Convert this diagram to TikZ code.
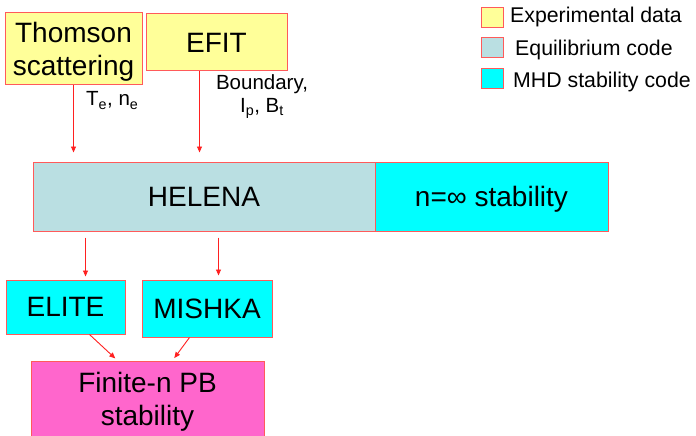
\documentclass[tikz,border=0pt]{standalone}
\usepackage{fontspec}
\setmainfont{Liberation Sans}
\usetikzlibrary{arrows.meta}

\definecolor{edgered}{HTML}{FF5A5A}
\definecolor{arrowred}{HTML}{FF2020}
\definecolor{expyellow}{HTML}{FFFF99}
\definecolor{eqblue}{HTML}{BADFE2}
\definecolor{mhdcyan}{HTML}{00FFFF}
\definecolor{pbpink}{HTML}{FF66CC}

\tikzset{
  box/.style={draw=edgered, line width=1pt, inner sep=0pt, align=center,
    font=\fontsize{28}{33}\selectfont, text depth=0pt},
  expbox/.style={box, fill=expyellow},
  eqbox/.style={box, fill=eqblue},
  mhdbox/.style={box, fill=mhdcyan},
  pbbox/.style={box, fill=pbpink},
  swatch/.style={draw=edgered, line width=1pt, inner sep=0pt,
    minimum width=22pt, minimum height=20pt},
  legtext/.style={anchor=base west, inner sep=0pt,
    font=\fontsize{21.3}{24}\selectfont},
  lbl/.style={inner sep=0pt, align=center,
    font=\fontsize{20.5}{23}\selectfont},
  flow/.style={draw=arrowred, line width=0.9pt,
    -{Triangle[length=6pt,width=5pt]}}
}

\begin{document}
\begin{tikzpicture}[x=1pt, y=-1pt]
  \useasboundingbox (0,0) rectangle (696,436);

  % input data and equilibrium reconstruction
  \node[expbox, minimum width=137pt, minimum height=71pt] (thomson)
    at (73.5,48.5) {Thomson\\scattering};
  \node[expbox, minimum width=141pt, minimum height=57pt] (efit)
    at (216.5,42.5) {EFIT};

  % equilibrium code and ballooning limit
  \node[eqbox, minimum width=342pt, minimum height=69pt] (helena)
    at (204,196.5) {HELENA};
  \node[mhdbox, minimum width=233pt, minimum height=69pt] (ninf)
    at (491.5,196.5) {n=∞ stability};

  % stability codes
  \node[mhdbox, minimum width=119pt, minimum height=54pt] (elite)
    at (65.5,307) {ELITE};
  \node[mhdbox, minimum width=130pt, minimum height=57pt] (mishka)
    at (207,308.5) {MISHKA};
  \node[pbbox, minimum width=233pt, minimum height=76pt] (finite)
    at (147.5,399) {Finite-n PB\\stability};

  % quantities passed along the arrows
  \node[lbl, anchor=base west] (telbl) at (86,106)
    {T\textsubscript{e}, n\textsubscript{e}};
  \node[lbl] (bdlbl) at (262,97)
    {Boundary,\\I\textsubscript{p}, B\textsubscript{t}};

  % data flow
  \coordinate (efitout) at ([xshift=54pt]efit.south west);
  \coordinate (helout1) at ([xshift=53pt]helena.south west);
  \coordinate (helout2) at ([xshift=186pt]helena.south west);
  \coordinate (eliteout) at ([xshift=84pt]elite.south west);
  \coordinate (mishout) at ([xshift=48pt]mishka.south west);
  \coordinate (finin1) at ([xshift=87pt]finite.north west);
  \coordinate (finin2) at ([xshift=142pt]finite.north west);

  \draw[flow, shorten >=9pt] (thomson.south) -- (thomson.south |- helena.north);
  \draw[flow, shorten >=9pt] (efitout) -- (efitout |- helena.north);
  \draw[flow, shorten <=6pt, shorten >=3pt] (helout1) -- (helout1 |- elite.north);
  \draw[flow, shorten <=6pt, shorten >=4pt] (helout2) -- (helout2 |- mishka.north);
  \draw[flow, shorten >=3pt] (eliteout) -- (finin1);
  \draw[flow, shorten >=3pt] (mishout) -- (finin2);

  % legend
  \node[swatch, fill=expyellow] (sw1) at (492,18) {};
  \node[swatch, fill=eqblue] (sw2) at (492,48) {};
  \node[swatch, fill=mhdcyan] (sw3) at (492,78.5) {};
  \node[legtext] (lg1) at (510,23) {Experimental data};
  \node[legtext] (lg2) at (515,56) {Equilibrium code};
  \node[legtext] (lg3) at (513,87) {MHD stability code};
\end{tikzpicture}
\end{document}
